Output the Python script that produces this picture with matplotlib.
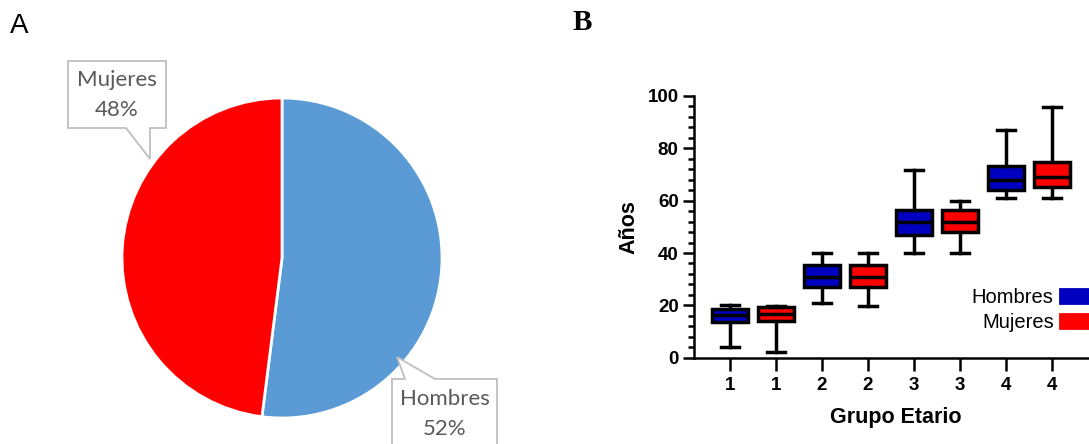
import matplotlib
matplotlib.use("Agg")
import matplotlib.pyplot as plt
from matplotlib.patches import Patch, Polygon
from matplotlib.ticker import MultipleLocator

# Panel A: sex distribution
pie_labels = ["Hombres", "Mujeres"]
pie_pct = [52, 48]
pie_colors = ["#5B9BD5", "#FF0000"]

# Panel B: age by age group and sex
grupos = ["1", "1", "2", "2", "3", "3", "4", "4"]
sexo = ["Hombres", "Mujeres", "Hombres", "Mujeres", "Hombres", "Mujeres", "Hombres", "Mujeres"]
whis_lo = [3.9, 2.0, 20.9, 19.9, 39.9, 40.0, 60.9, 60.9]
q1 = [13.8, 14.1, 27.0, 27.0, 47.0, 47.9, 64.1, 65.1]
mediana = [16.4, 16.7, 31.0, 31.0, 51.8, 51.8, 68.0, 69.0]
q3 = [18.6, 19.4, 35.5, 35.5, 56.4, 56.4, 73.4, 74.9]
whis_hi = [20.1, 19.6, 39.9, 40.0, 71.7, 59.9, 86.9, 95.7]
box_colors = {"Hombres": "#0000C0", "Mujeres": "#FF0000"}

plt.rcParams["hatch.color"] = "white"
plt.rcParams["hatch.linewidth"] = 1.0

W, H = 1089, 444
fig = plt.figure(figsize=(W / 100, H / 100), dpi=100)

# ---------------- A ----------------
R = 160.0          # pie radius in px
CX, CY = 282, 258  # pie centre in px (from top-left)
ax_pie = fig.add_axes([0, 0, 560 / W, 1])
wedges, _ = ax_pie.pie(pie_pct, colors=pie_colors, startangle=90, counterclock=False,
                       wedgeprops=dict(edgecolor="white", linewidth=2))
ax_pie.set_xlim(-CX / R, (560 - CX) / R)
ax_pie.set_ylim(-(H - CY) / R, CY / R)
ax_pie.set_aspect("auto")
ax_pie.axis("off")


def px(x, y):
    return ((x - CX) / R, (CY - y) / R)


def callout(ax, box, base, tip, lines, text_y):
    x0, y0, x1, y1 = box
    if base[0][1] == y0:  # pointer on top edge
        pts = [(x0, y0), base[0], tip, base[1], (x1, y0), (x1, y1), (x0, y1)]
    else:                 # pointer on bottom edge
        pts = [(x0, y0), (x1, y0), (x1, y1), base[1], tip, base[0], (x0, y1)]
    poly = Polygon([px(*p) for p in pts], closed=True, facecolor="white",
                   edgecolor="#BFBFBF", linewidth=1.3, clip_on=False, zorder=3)
    ax.add_patch(poly)
    xc = (x0 + x1) / 2
    for txt, ty in zip(lines, text_y):
        ax.text(*px(xc, ty), txt, ha="center", va="center", color="#595959",
                fontsize=16, family="Lato", zorder=4)


callout(ax_pie, (68, 61, 166, 128), [(126, 128), (150, 128)], (150, 159),
        [pie_labels[1], f"{pie_pct[1]}%"], [80, 110])
callout(ax_pie, (392, 379, 497, 450), [(405, 379), (435, 379)], (397, 357),
        [pie_labels[0], f"{pie_pct[0]}%"], [399, 429])

fig.text(10 / W, 1 - 33 / H, "A", fontsize=20, family="Liberation Sans", va="baseline")

# ---------------- B ----------------
x0_px, y0_px = 694, 357.7
x_step = 46.0
x_left, x_right = 0.22, 9.0
ax = fig.add_axes([x0_px / W, 1 - y0_px / H,
                   (x_right - x_left) * x_step / W, (y0_px - 96) / H])
pos = list(range(1, len(grupos) + 1))
stats = [dict(whislo=a, q1=b, med=c, q3=d, whishi=e, fliers=[])
         for a, b, c, d, e in zip(whis_lo, q1, mediana, q3, whis_hi)]
lw = 2.5
bp = ax.bxp(stats, positions=pos, widths=0.78, capwidths=0.38, patch_artist=True,
            showfliers=False,
            boxprops=dict(edgecolor="black", linewidth=lw),
            medianprops=dict(color="black", linewidth=lw),
            whiskerprops=dict(color="black", linewidth=lw),
            capprops=dict(color="black", linewidth=lw))
for patch, s in zip(bp["boxes"], sexo):
    patch.set_facecolor(box_colors[s])

ax.set_xlim(x_left, x_right)
ax.set_ylim(0, 100)
ax.set_xticks(pos)
ax.set_xticklabels(grupos)
ax.yaxis.set_major_locator(MultipleLocator(20))
ax.yaxis.set_minor_locator(MultipleLocator(4))
for sp in ["top", "right"]:
    ax.spines[sp].set_visible(False)
for sp in ["left", "bottom"]:
    ax.spines[sp].set_linewidth(1.8)
ax.tick_params(axis="both", which="major", length=8, width=1.8, pad=3,
               labelsize=13.5)
ax.tick_params(axis="y", which="minor", length=4.5, width=1.8)
ax.tick_params(axis="x", which="major", length=9, pad=5)
for lab in ax.get_xticklabels() + ax.get_yticklabels():
    lab.set_fontweight("bold")
    lab.set_family("Liberation Sans")
ax.set_xlabel("Grupo Etario", fontsize=15.5, fontweight="bold",
              family="Liberation Sans", labelpad=9)
ax.set_ylabel("Años", fontsize=15.5, fontweight="bold",
              family="Liberation Sans", labelpad=6)

handles = [Patch(facecolor=box_colors[k], edgecolor=box_colors[k], linewidth=2,
                 hatch="..") for k in ["Hombres", "Mujeres"]]
fig.legend(handles, ["Hombres", "Mujeres"], loc="upper right",
           bbox_to_anchor=(1098 / W, 1 - 278 / H), frameon=False, borderpad=0,
           markerfirst=False, handlelength=1.4, handleheight=0.7,
           handletextpad=0.3, labelspacing=0.3,
           prop=dict(family="Liberation Sans", size=14.5))

fig.text(573 / W, 1 - 30 / H, "B", fontsize=21, family="Liberation Serif",
         fontweight="bold", va="baseline")

fig.savefig("out.png", dpi=100)
